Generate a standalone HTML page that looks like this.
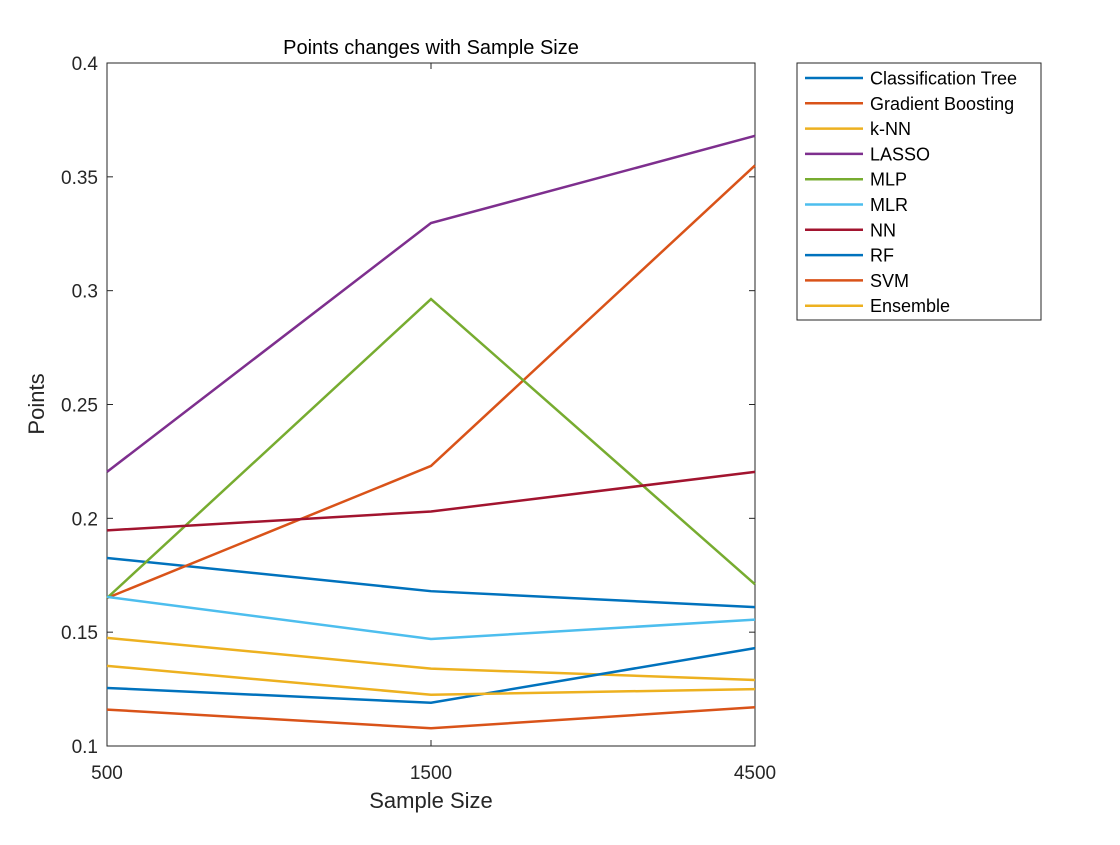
<!DOCTYPE html>
<html><head><meta charset="utf-8">
<style>body{margin:0;background:#fff}svg text{font-family:"Liberation Sans",Helvetica,Arial,sans-serif}</style>
</head><body>
<svg id="chart" width="1120" height="840" xmlns="http://www.w3.org/2000/svg">
<rect width="1120" height="840" fill="#fff"/>
<g id="plot"></g>
</svg>
<script>
const categories = ["500","1500","4500"];
const seriesNames = ["Classification Tree","Gradient Boosting","k-NN","LASSO","MLP","MLR","NN","RF","SVM","Ensemble"];
const ctVals = [0.1826,0.168,0.161];
const gbVals = [0.165,0.223,0.355];
const knnVals = [0.1475,0.134,0.129];
const lassoVals = [0.2204,0.3297,0.368];
const mlpVals = [0.165,0.2963,0.171];
const mlrVals = [0.1655,0.147,0.1555];
const nnVals = [0.1947,0.203,0.2204];
const rfVals = [0.1255,0.119,0.143];
const svmVals = [0.1160,0.1078,0.1170];
const ensVals = [0.1352,0.1225,0.125];
const yTicks = [0.1,0.15,0.2,0.25,0.3,0.35,0.4];
const yTickLabels = ["0.1","0.15","0.2","0.25","0.3","0.35","0.4"];
const allSeries = [ctVals,gbVals,knnVals,lassoVals,mlpVals,mlrVals,nnVals,rfVals,svmVals,ensVals];
const colors = ["#0072BD","#D95319","#EDB120","#7E2F8E","#77AC30","#4DBEEE","#A2142F","#0072BD","#D95319","#EDB120"];
const L=107,R=755,T=63,B=746;
const xScale=i=>L+i*(R-L)/(categories.length-1);
const yScale=v=>B-(v-0.1)/(0.4-0.1)*(B-T);
const NS="http://www.w3.org/2000/svg";
const g=document.getElementById('plot');
function mk(tag,attrs,parent){const e=document.createElementNS(NS,tag);for(const k in attrs)e.setAttribute(k,attrs[k]);(parent||g).appendChild(e);return e;}
const box=mk('rect',{x:L,y:T,width:R-L,height:B-T,fill:'none',stroke:'#262626','stroke-width':1});


yTicks.forEach((v,i)=>{
  const y=yScale(v);
  mk('line',{x1:L,x2:L+6,y1:y,y2:y,stroke:'#262626'});
  mk('line',{x1:R,x2:R-6,y1:y,y2:y,stroke:'#262626'});
  const t=mk('text',{x:L-9,y:y+7,'text-anchor':'end','font-size':19,fill:'#262626'});
  t.textContent=yTickLabels[i];
  
  
});
categories.forEach((c,i)=>{
  const x=xScale(i);
  mk('line',{x1:x,x2:x,y1:B,y2:B-6,stroke:'#262626'});
  mk('line',{x1:x,x2:x,y1:T,y2:T+6,stroke:'#262626'});
  const t=mk('text',{x:x,y:B+33,'text-anchor':'middle','font-size':19,fill:'#262626'});
  t.textContent=c;
  
  
});
allSeries.forEach((vals,si)=>{
  const p=mk('polyline',{points:vals.map((v,i)=>xScale(i)+','+yScale(v)).join(' '),fill:'none',stroke:colors[si],'stroke-width':2.5});
  
  
});
const title=mk('text',{x:(L+R)/2,y:54,'text-anchor':'middle','font-size':20,fill:'#000'});
title.textContent='Points changes with Sample Size';


const xt=mk('text',{x:(L+R)/2,y:808,'text-anchor':'middle','font-size':22,fill:'#262626'});
xt.textContent='Sample Size';


const yt=mk('text',{x:0,y:0,'text-anchor':'middle','font-size':22,fill:'#262626',transform:'translate(44,404) rotate(-90)'});
yt.textContent='Points';


const lg=mk('g',{});


mk('rect',{x:797,y:63,width:244,height:257,fill:'#fff',stroke:'#262626','stroke-width':1},lg);
seriesNames.forEach((n,i)=>{
  const y=78+i*25.3;
  const e=mk('g',{},lg);
  
  
  mk('line',{x1:805,x2:863,y1:y,y2:y,stroke:colors[i],'stroke-width':2.5},e);
  const t=mk('text',{x:870,y:y+6.5,'font-size':18,fill:'#000'},e);
  t.textContent=n;
});
</script>
</body></html>
